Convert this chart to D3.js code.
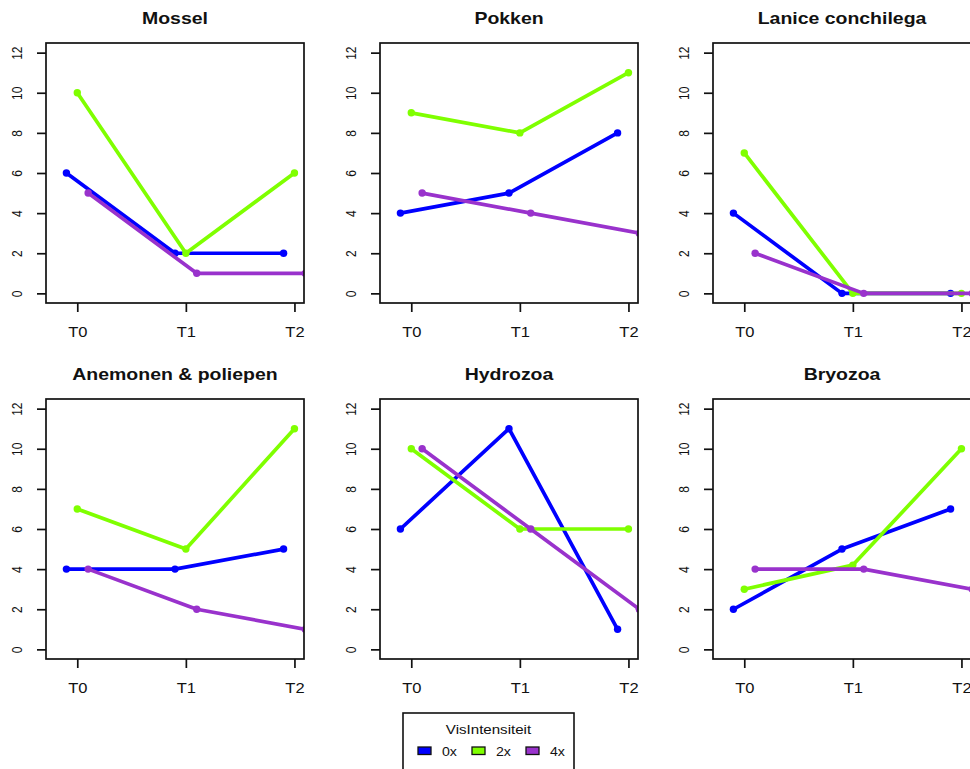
<!DOCTYPE html>
<html>
<head>
<meta charset="utf-8">
<script src="https://cdn.jsdelivr.net/npm/d3@7"></script>
<style>
  html, body { margin: 0; padding: 0; background: #fff; }
  svg { display: block; font-family: "Liberation Sans", Arial, Helvetica, sans-serif; }
</style>
</head>
<body>
<svg id="chart" width="970" height="769"></svg>
<script>
// Sampling moments and panels
const times = ["T0", "T1", "T2"];
const species = ["Mossel", "Pokken", "Lanice conchilega", "Anemonen & poliepen", "Hydrozoa", "Bryozoa"];

// Fishing intensity groups, each series drawn with a small horizontal offset
const intensities = ["0x", "2x", "4x"];
const intensityColors = ["#0000FF", "#7FFF00", "#9932CC"];
const intensityOffsets = [-0.1, 0, 0.1];

// Counts per species (rows) at T0, T1, T2
const values0x = [[6, 2, 2], [4, 5, 8], [4, 0, 0], [4, 4, 5], [6, 11, 1], [2, 5, 7]];
const values2x = [[10, 2, 6], [9, 8, 11], [7, 0, 0], [7, 5, 11], [10, 6, 6], [3, 4.2, 10]];
const values4x = [[5, 1, 1], [5, 4, 3], [2, 0, 0], [4, 2, 1], [10, 6, 2], [4, 4, 3]];

const yTicks = [0, 2, 4, 6, 8, 10, 12];
const legendTitle = "VisIntensiteit";

const seriesValues = [values0x, values2x, values4x];

// Layout
const panelW = 258, panelH = 260;
const colX = [46, 380, 713];
const rowY = [43, 399];
const sx = 1.18; // horizontal text widening

const svg = d3.select("#chart");

const x = d3.scaleLinear().domain([0.712, 3.088]).range([0, panelW]);
const y = d3.scaleLinear().domain([-0.48, 12.48]).range([panelH, 0]);

const line = d3.line()
  .x(d => x(d.t))
  .y(d => y(d.v));

species.forEach((name, i) => {
  const px = colX[i % 3], py = rowY[Math.floor(i / 3)];
  const g = svg.append("g").attr("transform", `translate(${px},${py})`);

  // clip region = plot box
  const clipId = "clip" + i;
  svg.append("clipPath").attr("id", clipId)
    .append("rect").attr("x", 0).attr("y", 0).attr("width", panelW).attr("height", panelH);

  // title
  g.append("text")
    .attr("transform", `translate(${panelW / 2},${-19}) scale(${sx},1)`)
    .attr("text-anchor", "middle")
    .attr("font-weight", "bold")
    .attr("font-size", 16.5)
    .attr("fill", "#111")
    .text(name);

  // series
  const plot = g.append("g").attr("clip-path", `url(#${clipId})`);
  seriesValues.forEach((vals, s) => {
    const pts = vals[i].map((v, k) => ({ t: k + 1 + intensityOffsets[s], v }));
    plot.append("path")
      .datum(pts)
      .attr("d", line)
      .attr("fill", "none")
      .attr("stroke", intensityColors[s])
      .attr("stroke-width", 3.7)
      .attr("stroke-linejoin", "round");
    plot.selectAll(null)
      .data(pts)
      .enter().append("circle")
      .attr("cx", d => x(d.t))
      .attr("cy", d => y(d.v))
      .attr("r", 3.7)
      .attr("fill", intensityColors[s]);
  });

  // box
  g.append("rect")
    .attr("x", 0).attr("y", 0)
    .attr("width", panelW).attr("height", panelH)
    .attr("fill", "none")
    .attr("stroke", "#111")
    .attr("stroke-width", 1.7);

  // x axis
  const xa = g.append("g")
    .attr("transform", `translate(0,${panelH})`)
    .call(d3.axisBottom(x).tickValues([1, 2, 3]).tickFormat((d, k) => times[k]).tickSize(9).tickPadding(15));
  xa.select(".domain").remove();
  xa.selectAll(".tick line").attr("stroke", "#111").attr("stroke-width", 1.7);
  xa.selectAll(".tick text")
    .attr("font-size", 14)
    .attr("font-family", "Liberation Sans, Arial, sans-serif")
    .attr("fill", "#111")
    .attr("transform", `scale(${sx},1)`);

  // y axis
  const ya = g.append("g")
    .call(d3.axisLeft(y).tickValues(yTicks).tickSize(9));
  ya.select(".domain").remove();
  ya.selectAll(".tick line").attr("stroke", "#111").attr("stroke-width", 1.7);
  ya.selectAll(".tick text")
    .attr("x", null).attr("dy", null)
    .attr("text-anchor", "middle")
    .attr("font-size", 12)
    .attr("font-family", "Liberation Sans, Arial, sans-serif")
    .attr("fill", "#111")
    .attr("transform", `translate(-24,0) scale(${sx},1) rotate(-90)`);
});

// legend
const lg = svg.append("g").attr("transform", "translate(403,713)");
lg.append("rect")
  .attr("x", 0).attr("y", 0).attr("width", 171).attr("height", 90)
  .attr("fill", "#fff").attr("stroke", "#111").attr("stroke-width", 1.6);
lg.append("text")
  .attr("transform", `translate(85.5,21) scale(${sx + 0.08},1)`)
  .attr("text-anchor", "middle")
  .attr("font-size", 12)
  .attr("fill", "#111")
  .text(legendTitle);
const itemX = [15, 69, 123];
intensities.forEach((lab, s) => {
  lg.append("rect")
    .attr("x", itemX[s]).attr("y", 34)
    .attr("width", 13).attr("height", 7.5)
    .attr("fill", intensityColors[s])
    .attr("stroke", "#111").attr("stroke-width", 1.3);
  lg.append("text")
    .attr("transform", `translate(${itemX[s] + 24},${42.5}) scale(${sx},1)`)
    .attr("font-size", 12)
    .attr("fill", "#111")
    .text(lab);
});
</script>
</body>
</html>
